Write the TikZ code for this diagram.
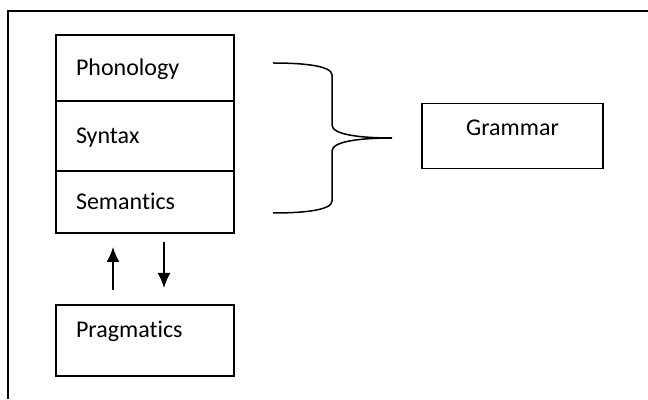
\documentclass[tikz,border=0pt]{standalone}
\usepackage{fontspec}
\setmainfont{Carlito}[Ligatures=NoCommon]
\usetikzlibrary{positioning, arrows.meta}

\begin{document}
\begin{tikzpicture}[x=1pt, y=1pt,
      block/.style={draw, line width=1.5pt, outer sep=0pt, inner xsep=20pt,
        text width=138pt, align=left, text height=16pt, text depth=0pt,
        font=\fontsize{24}{28}\selectfont},
      >={Latex[length=15pt, width=13pt]}, node distance=0pt]
    \useasboundingbox (0,0) rectangle (648,399);
    \draw[line width=1.5pt] (8,0) -- (8,388) -- (648,388);
    \node[block, minimum height=66pt] (pho) at (145,331) {Phonology};
    \node[block, minimum height=70pt, below=0pt of pho] (syn) {Syntax};
    \node[block, minimum height=62pt, below=0pt of syn] (sem) {Semantics};
    \node[block, minimum height=71pt, text depth=21pt, below=72pt of sem] (prag) {Pragmatics};
    \node[block, minimum height=65pt, text width=141pt, align=center,
      text depth=16pt, right=188pt of syn] (gram) {Grammar};
    \draw[->, line width=1.5pt, shorten <=15pt, shorten >=14pt]
      ([xshift=-32pt]prag.north) -- ([xshift=-32pt]sem.south);
    \draw[->, line width=1.5pt, shorten <=9pt, shorten >=17pt]
      ([xshift=19pt]sem.south) -- ([xshift=19pt]prag.north);
    \draw[line width=1.5pt] (273,336) .. controls (305,336) and (332,333) .. (332,324)
      -- (332,274) .. controls (332,264) and (362,261) .. (392,261) coordinate (tip)
      .. controls (362,261) and (332,258) .. (332,248)
      -- (332,198) .. controls (332,189) and (305,186) .. (273,186);
  \end{tikzpicture}
\end{document}
